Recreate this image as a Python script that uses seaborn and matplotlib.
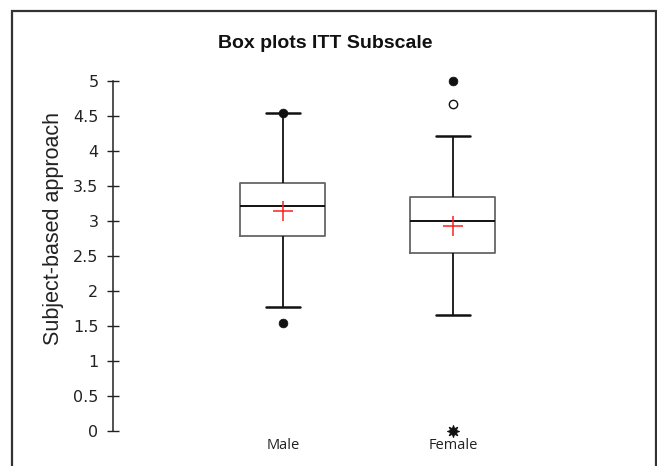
import numpy as np
import pandas as pd
import matplotlib
matplotlib.use("Agg")
import matplotlib.pyplot as plt
import seaborn as sns
from matplotlib.patches import Rectangle

# five-number summaries (whisker low, Q1, median, Q3, whisker high)
groups = ["Male", "Female"]
male_summary = [1.77, 2.78, 3.22, 3.55, 4.55]
female_summary = [1.66, 2.55, 3.00, 3.34, 4.21]
means = [3.15, 2.93]

# outliers
filled_group = ["Male", "Male", "Female"]
filled_vals = [1.55, 4.55, 5.00]
open_group = ["Female"]
open_vals = [4.67]
extreme_group = ["Female"]
extreme_vals = [0.0]

yticks = [0, 0.5, 1, 1.5, 2, 2.5, 3, 3.5, 4, 4.5, 5]

df = pd.DataFrame({
    "group": ["Male"] * len(male_summary) + ["Female"] * len(female_summary),
    "value": male_summary + female_summary,
})

sns.set_style("ticks")
fig = plt.figure(figsize=(6.57, 4.66), dpi=100)
ax = fig.add_axes([113 / 657, 35 / 466, 510 / 657, 350 / 466])

sns.boxplot(data=df, x="group", y="value", order=groups, whis=(0, 100),
            width=0.5, fill=False, showfliers=False, ax=ax,
            boxprops=dict(color="#666666", linewidth=1.3),
            medianprops=dict(color="#111111", linewidth=1.4),
            whiskerprops=dict(color="#111111", linewidth=1.3),
            capprops=dict(color="#111111", linewidth=1.8),
            capwidths=0.2)

sns.scatterplot(x=filled_group, y=filled_vals, ax=ax, color="#111111",
                s=40, marker="o", edgecolor="#111111", clip_on=False, zorder=5)
sns.scatterplot(x=open_group, y=open_vals, ax=ax, facecolor="white",
                s=36, marker="o", edgecolor="#111111", linewidth=1.0,
                clip_on=False, zorder=5)
sns.scatterplot(x=extreme_group, y=extreme_vals, ax=ax, color="#111111",
                s=75, marker=(8, 1, 0), edgecolor="#111111", clip_on=False, zorder=5)
sns.scatterplot(x=groups, y=means, ax=ax, color="#ff2020", s=220,
                marker="+", linewidth=1.1, clip_on=False, zorder=6)

ax.set_xlim(-1, 2)
ax.set_ylim(0, 5)
ax.set_yticks(yticks)
ax.set_yticklabels([f"{t:g}" for t in yticks], fontfamily="DejaVu Sans", fontsize=11.5,
                   color="#222222")
ax.tick_params(axis="y", direction="inout", length=9, width=1.0, color="#222222", pad=6)
ax.tick_params(axis="x", length=0, pad=5)
for lbl in ax.get_xticklabels():
    lbl.set_fontfamily("Open Sans")
    lbl.set_fontsize(10.5)
    lbl.set_color("#222222")

for side in ["top", "right", "bottom"]:
    ax.spines[side].set_visible(False)
ax.spines["left"].set_color("#222222")
ax.spines["left"].set_linewidth(1.1)

ax.set_xlabel("")
ax.set_ylabel("Subject-based approach", fontfamily="Liberation Sans", fontsize=15.5,
              color="#222222")
ax.yaxis.set_label_coords(-0.097, 0.58)
fig.text(325 / 657, 1 - 44 / 466, "Box plots ITT Subscale", ha="center", va="center",
         fontfamily="Liberation Sans", fontweight="bold", fontsize=14, color="#111111")

# outer frame of the original figure
fig.patches.append(Rectangle((12 / 657, -0.05), 644 / 657, 1.05 - 10.5 / 466,
                             transform=fig.transFigure, fill=False,
                             edgecolor="#333333", linewidth=1.6))

fig.savefig("out.png", dpi=100)
